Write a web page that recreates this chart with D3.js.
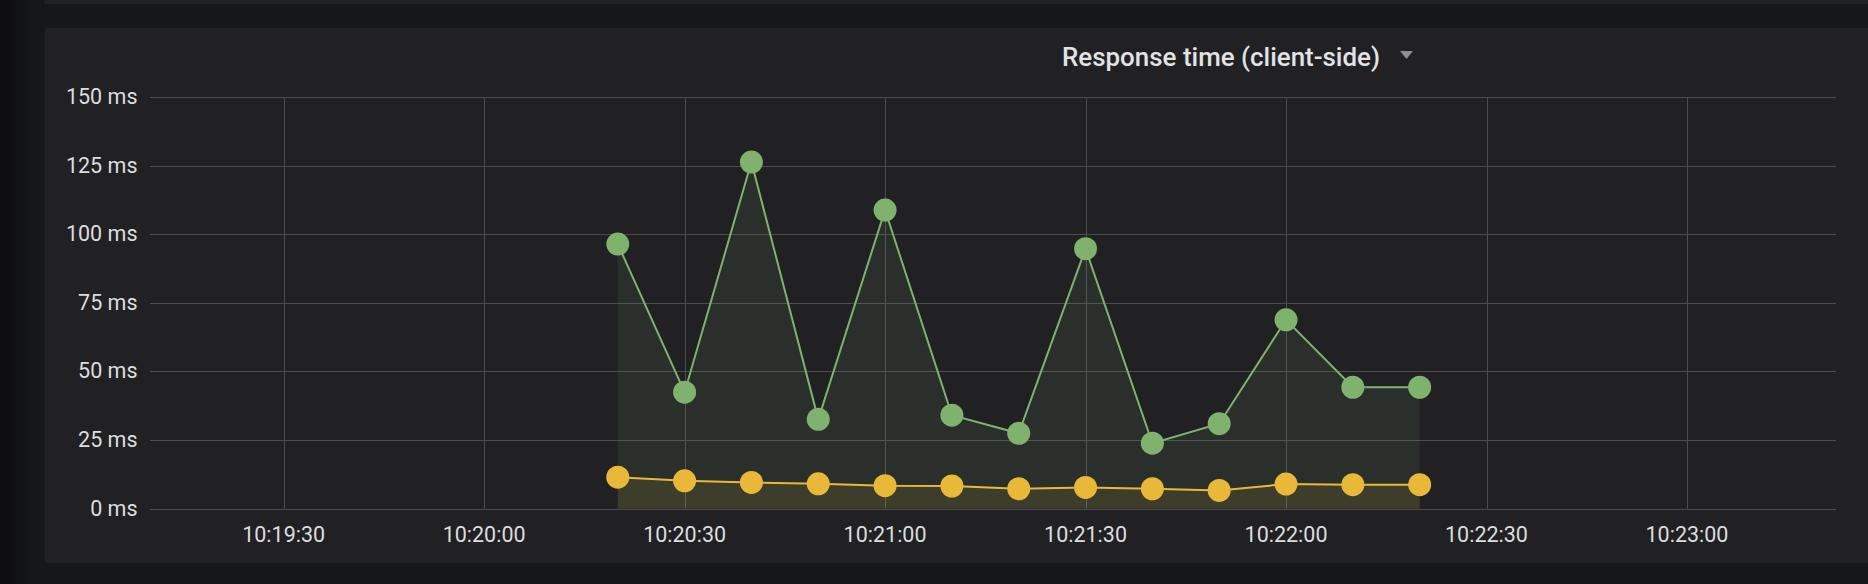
<!DOCTYPE html>
<html><head><meta charset="utf-8">
<script src="https://cdn.jsdelivr.net/npm/d3@7"></script>
<style>
html,body{margin:0;padding:0;background:#161719;}
svg{display:block;}
</style></head>
<body>
<svg id="c" width="1868" height="584"></svg>
<script>
// ---- data ----
const times = ["10:20:20","10:20:30","10:20:40","10:20:50","10:21:00","10:21:10","10:21:20","10:21:30","10:21:40","10:21:50","10:22:00","10:22:10","10:22:20"];
const greenValues = [96.4, 42.4, 126.3, 32.5, 108.8, 34.0, 27.4, 94.7, 23.8, 30.9, 68.8, 44.2, 44.2];
const yellowValues = [11.4, 10.1, 9.5, 9.0, 8.3, 8.2, 7.2, 7.7, 7.2, 6.6, 8.9, 8.7, 8.7];
const yTicks = [0, 25, 50, 75, 100, 125, 150];
const xTickLabels = ["10:19:30","10:20:00","10:20:30","10:21:00","10:21:30","10:22:00","10:22:30","10:23:00"];
const title = "Response time (client-side)";

const parse = s => { const [h,m,sec] = s.split(":").map(Number); return new Date(2018,0,1,h,m,sec); };

const svg = d3.select("#c");
const W = 1868, H = 584;

// page background with left shade
const defs = svg.append("defs");
const lg = defs.append("linearGradient").attr("id","lshade").attr("x1",0).attr("x2",1);
lg.append("stop").attr("offset",0).attr("stop-color","#0c0c0d");
lg.append("stop").attr("offset",1).attr("stop-color","#161719");
svg.append("rect").attr("width",W).attr("height",H).attr("fill","#161719");
svg.append("rect").attr("width",30).attr("height",H).attr("fill","url(#lshade)");

// previous panel bottom edge
svg.append("rect").attr("x",44).attr("y",-10).attr("width",W).attr("height",14).attr("rx",3).attr("fill","#212124");
// main panel
svg.append("rect").attr("x",44.5).attr("y",28).attr("width",W).attr("height",535.5).attr("rx",3).attr("fill","#212124");

const x0 = parse("10:19:10"), x1 = new Date(parse("10:23:22").getTime()+300);
const x = d3.scaleTime().domain([x0, x1]).range([150, 1836]);
const y = d3.scaleLinear().domain([0, 150]).range([508.5, 97]);

const font = "Roboto, 'Helvetica Neue', Arial, sans-serif";
const g = svg.append("g");

// horizontal grid
g.selectAll("line.h").data(yTicks).join("line")
  .attr("x1",150).attr("x2",1836)
  .attr("y1",d=>Math.round(y(d))+0.5).attr("y2",d=>Math.round(y(d))+0.5)
  .attr("stroke","#4c4c4f").attr("stroke-width",1);
// vertical grid
const xTicks = xTickLabels.map(parse);
g.selectAll("line.v").data(xTicks).join("line")
  .attr("x1",d=>Math.round(x(d))+0.5).attr("x2",d=>Math.round(x(d))+0.5)
  .attr("y1",97).attr("y2",508.5)
  .attr("stroke","#4c4c4f").attr("stroke-width",1);

// y labels
g.selectAll("text.y").data(yTicks).join("text")
  .attr("x",137.5).attr("y",d=>y(d)+7)
  .attr("text-anchor","end").attr("fill","#dcdddf")
  .attr("font-family",font).attr("font-size",21.5)
  .text(d=>d+" ms");
// x labels
g.selectAll("text.x").data(xTicks).join("text")
  .attr("x",d=>x(d)).attr("y",542)
  .attr("text-anchor","middle").attr("fill","#dcdddf")
  .attr("font-family",font).attr("font-size",21.5)
  .text((d,i)=>xTickLabels[i]);

const ts = times.map(parse);
const gd = ts.map((t,i)=>({t, v:greenValues[i]}));
const yd = ts.map((t,i)=>({t, v:yellowValues[i]}));

const area = d3.area().x(d=>x(d.t)).y0(y(0)).y1(d=>y(d.v));
const line = d3.line().x(d=>x(d.t)).y(d=>y(d.v));

const green = "#7eb26d", yellow = "#eab839";
g.append("path").attr("d",area(gd)).attr("fill",green).attr("fill-opacity",0.1);
g.append("path").attr("d",area(yd)).attr("fill",yellow).attr("fill-opacity",0.1);
g.append("path").attr("d",line(gd)).attr("fill","none").attr("stroke",green).attr("stroke-width",2);
g.append("path").attr("d",line(yd)).attr("fill","none").attr("stroke",yellow).attr("stroke-width",2);
g.selectAll("circle.g").data(gd).join("circle")
  .attr("cx",d=>x(d.t)).attr("cy",d=>y(d.v)).attr("r",11.5).attr("fill",green);
g.selectAll("circle.yy").data(yd).join("circle")
  .attr("cx",d=>x(d.t)).attr("cy",d=>y(d.v)).attr("r",11.5).attr("fill",yellow);

// title
const tt = svg.append("text").attr("x",1062).attr("y",66)
  .attr("fill","#e2e3e4").attr("font-family",font).attr("font-size",25.5).attr("font-weight",500)
  .attr("textLength",318).attr("lengthAdjust","spacingAndGlyphs")
  .text(title);
const tx = 1062 + 318 + 20;
svg.append("path").attr("d",`M${tx},51 L${tx+13},51 L${tx+6.5},59 Z`).attr("fill","#8e8e8e");
</script>
</body></html>
